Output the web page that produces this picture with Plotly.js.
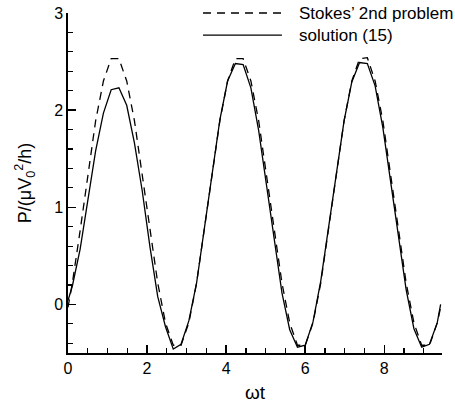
<!DOCTYPE html>
<html>
<head>
<meta charset="utf-8">
<script src="https://cdn.plot.ly/plotly-3.0.1.min.js"></script>
<style>html,body{margin:0;padding:0;background:#fff;}#chart{width:455px;height:403px;}</style>
</head>
<body>
<div id="chart"></div>
<script>
// ωt sample positions
const omegaT = [0, 0.110, 0.307, 0.503, 0.699, 0.896, 1.092, 1.288, 1.485, 1.681,
  1.877, 2.074, 2.270, 2.466, 2.663, 2.859, 3.056, 3.252, 3.448, 3.645,
  3.841, 4.037, 4.234, 4.430, 4.626, 4.823, 5.019, 5.215, 5.412, 5.608,
  5.804, 6.001, 6.197, 6.393, 6.590, 6.786, 6.983, 7.179, 7.375, 7.572,
  7.768, 7.964, 8.161, 8.357, 8.554, 8.750, 8.946, 9.143, 9.339, 9.425];

// Stokes' 2nd problem (dashed)
const stokes = [-0.03, 0.22, 0.76, 1.35, 1.89, 2.30, 2.53, 2.53, 2.30, 1.89,
  1.35, 0.76, 0.22, -0.19, -0.42, -0.42, -0.19, 0.22, 0.76, 1.35,
  1.89, 2.30, 2.53, 2.53, 2.30, 1.89, 1.35, 0.76, 0.22, -0.19,
  -0.42, -0.42, -0.19, 0.22, 0.76, 1.35, 1.89, 2.30, 2.53, 2.54,
  2.30, 1.89, 1.35, 0.76, 0.22, -0.19, -0.42, -0.42, -0.19, -0.03];

// solution (15) (solid)
const solution = [0.04, 0.19, 0.57, 1.10, 1.58, 1.97, 2.21, 2.23, 2.05, 1.66,
  1.17, 0.59, 0.08, -0.23, -0.46, -0.41, -0.17, 0.22, 0.77, 1.36,
  1.90, 2.30, 2.48, 2.47, 2.23, 1.79, 1.23, 0.65, 0.12, -0.26,
  -0.44, -0.42, -0.18, 0.24, 0.78, 1.36, 1.89, 2.29, 2.49, 2.48,
  2.25, 1.82, 1.27, 0.68, 0.15, -0.25, -0.44, -0.41, -0.19, 0.00];

const seriesNames = ["Stokes\u2019 2nd problem", "solution (15)"];
const xTickVals = [0, 2, 4, 6, 8];
const yTickVals = [0, 1, 2, 3];

const FONT = "Liberation Sans, Arial, Helvetica, sans-serif";

const traces = [
  {x: omegaT, y: stokes, type: "scatter", mode: "lines", name: seriesNames[0],
   line: {color: "#000", width: 1.3, dash: "8px,6px"}},
  {x: omegaT, y: solution, type: "scatter", mode: "lines", name: seriesNames[1],
   line: {color: "#000", width: 1.3}}
];

const axisCommon = {
  showline: true, linecolor: "#000", linewidth: 1.6, mirror: false,
  showgrid: false, zeroline: false,
  ticks: "inside", ticklen: 8, tickwidth: 1.5, tickcolor: "#000",
  tickfont: {family: FONT, size: 16, color: "#000"}
};

const layout = {
  width: 455, height: 403,
  margin: {l: 68, r: 13, t: 13, b: 50},
  paper_bgcolor: "#fff", plot_bgcolor: "#fff",
  showlegend: false,
  xaxis: Object.assign({}, axisCommon, {
    range: [0, 9.46], tickmode: "array", tickvals: xTickVals, ticktext: xTickVals.map(String),
    minor: {dtick: 0.5, tick0: 0, ticks: "inside", ticklen: 5, tickwidth: 1.2, tickcolor: "#000"},
    title: {text: "\u03c9t", font: {family: FONT, size: 19, color: "#000"}, standoff: 12}
  }),
  yaxis: Object.assign({}, axisCommon, {
    range: [-0.5, 3], tickmode: "array", tickvals: yTickVals, ticktext: yTickVals.map(String),
    minor: {dtick: 0.2, tick0: 0, ticks: "inside", ticklen: 5, tickwidth: 1.2, tickcolor: "#000"},
    title: {text: "P/(\u03bcV<sub>0</sub><sup>2</sup>/h)", font: {family: FONT, size: 18, color: "#000"}, standoff: 18}
  }),
  shapes: [
    {type: "line", xref: "paper", yref: "paper", x0: 0.361, x1: 0.572, y0: 1, y1: 1,
     line: {color: "#000", width: 1.3, dash: "8px,6px"}},
    {type: "line", xref: "paper", yref: "paper", x0: 0.361, x1: 0.572, y0: 0.935, y1: 0.935,
     line: {color: "#000", width: 1.3}}
  ],
  annotations: [
    {xref: "paper", yref: "paper", x: 0.612, y: 1, xanchor: "left", yanchor: "middle",
     text: seriesNames[0], showarrow: false, font: {family: FONT, size: 17, color: "#000"}},
    {xref: "paper", yref: "paper", x: 0.612, y: 0.935, xanchor: "left", yanchor: "middle",
     text: seriesNames[1], showarrow: false, font: {family: FONT, size: 17, color: "#000"}}
  ]
};

Plotly.newPlot("chart", traces, layout, {staticPlot: true, displayModeBar: false});
</script>
</body>
</html>
